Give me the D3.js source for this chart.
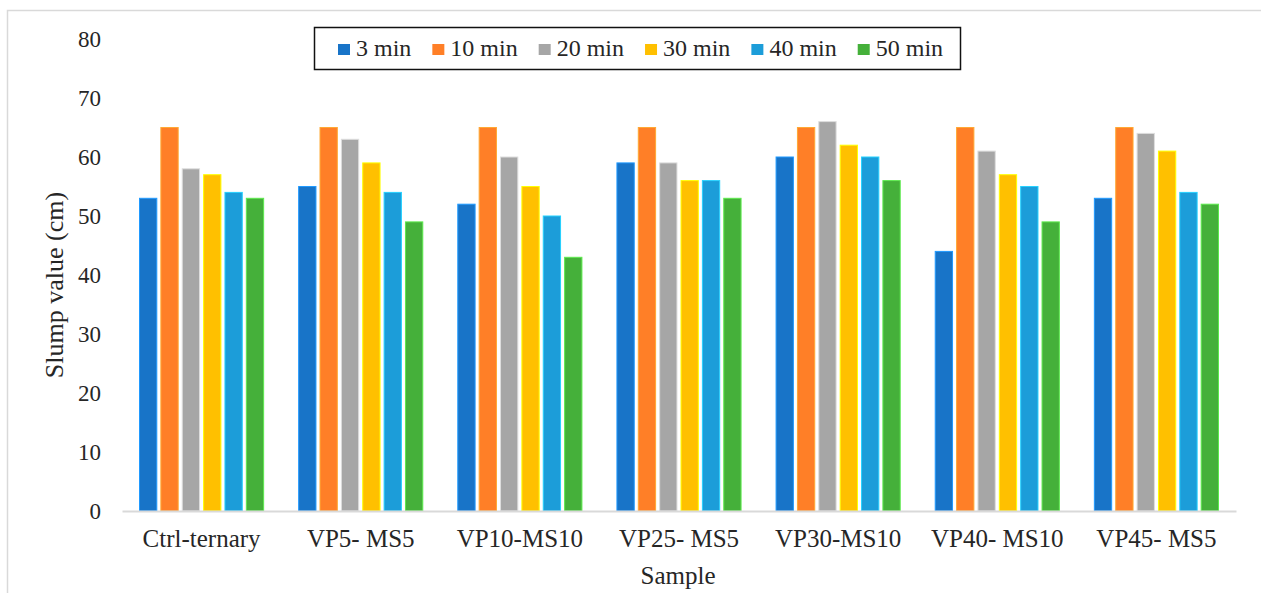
<!DOCTYPE html>
<html><head><meta charset="utf-8">
<script src="https://cdn.jsdelivr.net/npm/d3@7"></script>
<style>body{margin:0;background:#fff}svg{display:block}</style>
</head><body>
<svg id="c" width="1261" height="593"></svg>
<script>
const categories = ["Ctrl-ternary","VP5- MS5","VP10-MS10","VP25- MS5","VP30-MS10","VP40- MS10","VP45- MS5"];
const seriesNames = ["3 min","10 min","20 min","30 min","40 min","50 min"];
const s3  = [53,55,52,59,60,44,53];
const s10 = [65,65,65,65,65,65,65];
const s20 = [58,63,60,59,66,61,64];
const s30 = [57,59,55,56,62,57,61];
const s40 = [54,54,50,56,60,55,54];
const s50 = [53,49,43,53,56,49,52];
const yTicks = [0,10,20,30,40,50,60,70,80];
const colors = ["#1874C8","#FF7F27","#A6A6A6","#FFC000","#1C9DD9","#45B03A"];

const FONT = "'Liberation Serif', serif";
const TXT = "#262626";
const seriesVals = [s3,s10,s20,s30,s40,s50];
const svg = d3.select("#c");
function serif(sel, size){ return sel.style("font-family",FONT).style("font-size",size+"px").attr("fill",TXT); }

svg.append("rect").attr("x",7.5).attr("y",10.5).attr("width",1262).attr("height",600)
  .attr("fill","none").attr("stroke","#d9d9d9").attr("stroke-width",1.5);

const x0 = d3.scaleBand().domain(categories).range([122,1236]).paddingInner(0.22).paddingOuter(0.11);
const x1 = d3.scaleBand().domain(seriesNames).range([0,x0.bandwidth()]).paddingInner(0.19).paddingOuter(0);
const y = d3.scaleLinear().domain([0,80]).range([511,39]);

const yAxis = d3.axisLeft(y).tickValues(yTicks).tickSize(0).tickPadding(0);
const gy = svg.append("g").attr("transform","translate(101,0)").call(yAxis);
gy.select(".domain").remove();
serif(gy.selectAll("text"),23);

const groups = svg.append("g").selectAll("g").data(categories).join("g")
  .attr("transform",d=>`translate(${x0(d)},0)`);
groups.selectAll("rect").data((c,ci)=>seriesNames.map((s,si)=>({s,si,v:seriesVals[si][ci]}))).join("rect")
  .attr("x",d=>x1(d.s)).attr("y",d=>y(d.v)).attr("width",x1.bandwidth()).attr("height",d=>y(0)-y(d.v))
  .attr("fill",d=>colors[d.si]).attr("stroke",d=>d3.color(colors[d.si]).brighter(0.8)).attr("stroke-width",1);

const xAxis = d3.axisBottom(x0).tickSize(0).tickPadding(18);
const gx = svg.append("g").attr("transform","translate(0,511)").call(xAxis);
gx.select(".domain").attr("stroke","#d9d9d9").attr("stroke-width",2);
serif(gx.selectAll("text"),25);

serif(svg.append("text").attr("x",678).attr("y",584).attr("text-anchor","middle"),25).text("Sample");
serif(svg.append("text").attr("transform","translate(63,285) rotate(-90)").attr("text-anchor","middle"),26).text("Slump value (cm)");

// legend (sequential layout)
const lg = svg.append("g");
lg.append("rect").attr("x",314.5).attr("y",27.5).attr("width",646).attr("height",42).attr("fill","#fff").attr("stroke","#111").attr("stroke-width",1.5);
let cx = 338;
seriesNames.forEach((name,i)=>{
  const g = lg.append("g").attr("transform",`translate(${cx},0)`);
  g.append("rect").attr("x",0).attr("y",44).attr("width",12).attr("height",11).attr("fill",colors[i]);
  const t = serif(g.append("text").attr("x",18).attr("y",56),24).text(name);
  cx += 18 + t.node().getComputedTextLength() + 21;
});
</script>
</body></html>
